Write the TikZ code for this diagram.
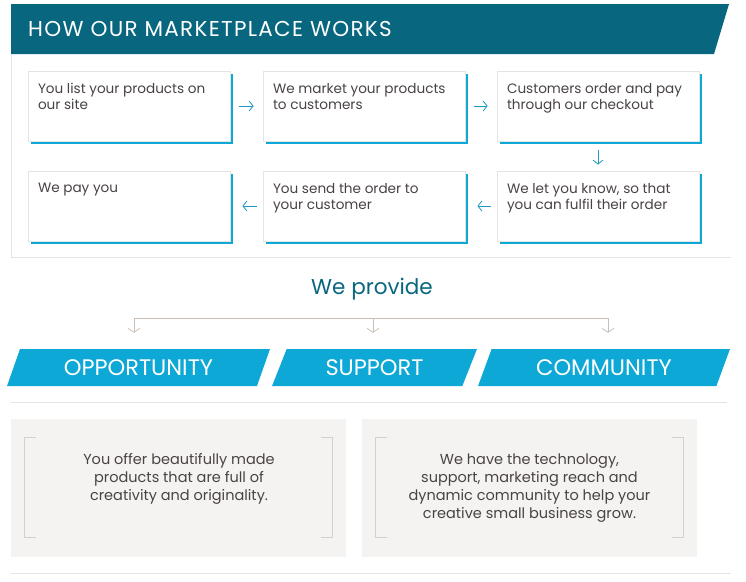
\documentclass[tikz,border=0pt]{standalone}
\usepackage{fontspec}
\setmainfont{Poppins}
\usepackage{tikz}
\usetikzlibrary{arrows.meta,shapes.geometric,shadows,positioning}
\definecolor{headteal}{HTML}{08667F}
\definecolor{bannerblue}{HTML}{0DA8D6}
\definecolor{arrowblue}{HTML}{1E98C3}
\definecolor{textgrey}{HTML}{4A4343}
\definecolor{framegrey}{HTML}{E4E4E4}
\definecolor{linktan}{HTML}{C9BFB7}
\definecolor{panelgrey}{HTML}{F4F3F1}
\definecolor{bracketgrey}{HTML}{D3D0CC}

\newcommand{\steptext}[1]{\parbox[t][45pt][t]{182pt}{\raggedright #1}}

\begin{document}
\begin{tikzpicture}[x=1pt,y=-1pt,
      stepbox/.style={rectangle,draw=framegrey,line width=0.8pt,fill=white,
                  minimum width=202pt,minimum height=70pt,
                  inner xsep=10pt,inner ysep=0pt,
                  text=textgrey,font=\fontsize{13.6}{16}\selectfont,
                  drop shadow={shadow xshift=3pt,shadow yshift=-3pt,
                               fill=bannerblue,opacity=1}},
      arr/.style={-{Straight Barb[length=4pt,width=10pt]},line width=0.8pt,draw=arrowblue},
      banner/.style={trapezium,trapezium left angle=63,trapezium right angle=117,
                  trapezium stretches=true,fill=bannerblue,
                  minimum height=37pt,inner sep=0pt,
                  text=white,font=\fontsize{22.5}{26}\selectfont},
      panel/.style={rectangle,fill=panelgrey,minimum width=335pt,minimum height=138pt},
      paneltext/.style={align=center,anchor=north,inner sep=0pt,
                  text=textgrey,font=\fontsize{14.5}{18}\selectfont},
      link/.style={draw=linktan,line width=0.8pt},
      linkarr/.style={link,-{Straight Barb[length=4pt,width=12pt]},shorten >=16pt},
      bracket/.style={draw=bracketgrey,line width=0.8pt}]
    \useasboundingbox (0,0) rectangle (746,581);

    % header
    \fill[headteal] (11,4) -- (729,4) -- (714,54) -- (11,54) -- cycle;
    \node[anchor=west,inner sep=0pt,text=white,
          font=\fontsize{21.5}{24}\selectfont\addfontfeatures{LetterSpace=6}]
          (title) at (28,28.5) {HOW OUR MARKETPLACE WORKS};
    \draw[framegrey,line width=0.8pt] (11,54) -- (11,257.5) -- (731,257.5);

    % steps
    \node[stepbox] (s1) at (129,106) {\steptext{You list your products on\\our site}};
    \node[stepbox] (s2) at (364,106) {\steptext{We market your products\\to customers}};
    \node[stepbox] (s3) at (598,106) {\steptext{Customers order and pay\\through our checkout}};
    \node[stepbox] (s4) at (598,206) {\steptext{We let you know, so that\\you can fulfil their order}};
    \node[stepbox] (s5) at (364,206) {\steptext{You send the order to\\your customer}};
    \node[stepbox] (s6) at (129,206) {\steptext{We pay you}};

    \draw[arr,shorten <=9pt,shorten >=9pt] (s1) -- (s2);
    \draw[arr,shorten <=9pt,shorten >=9pt] (s2) -- (s3);
    \draw[arr,shorten <=9pt,shorten >=6pt] (s3) -- (s4);
    \draw[arr,shorten <=6pt,shorten >=12pt] (s4) -- (s5);
    \draw[arr,shorten <=6pt,shorten >=12pt] (s5) -- (s6);

    % we provide
    \node[text=headteal,font=\fontsize{21.5}{24}\selectfont] (provide) at (372,289.5) {We provide};
    \node[banner,minimum width=263pt] (opp) at (138.5,367.5) {OPPORTUNITY};
    \node[banner,minimum width=205pt] (sup) at (374.5,367.5) {SUPPORT};
    \node[banner,minimum width=252pt] (com) at (604,367.5) {COMMUNITY};

    \coordinate (lnl) at (134,318);
    \coordinate (lnm) at (373,318);
    \coordinate (lnr) at (608,318);
    \draw[link] (lnl) -- (lnr);
    \draw[linkarr] (lnl) -- (lnl |- opp.north);
    \draw[linkarr] (lnm) -- (lnm |- sup.north);
    \draw[linkarr] (lnr) -- (lnr |- com.north);

    \draw[framegrey,line width=0.8pt] (11,402.5) -- (727,402.5);
    \draw[framegrey,line width=0.8pt] (11,573.5) -- (731,573.5);

    % panels
    \node[panel] (offer) at (178.5,488) {};
    \node[panel] (tech) at (529.5,488) {};
    \draw[bracket] ([shift={(25,19)}]offer.north west) -- ([shift={(14,19)}]offer.north west)
                -- ([shift={(14,-20)}]offer.south west) -- ([shift={(25,-20)}]offer.south west);
    \draw[bracket] ([shift={(-25,19)}]offer.north east) -- ([shift={(-14,19)}]offer.north east)
                -- ([shift={(-14,-20)}]offer.south east) -- ([shift={(-25,-20)}]offer.south east);
    \draw[bracket] ([shift={(25,19)}]tech.north west) -- ([shift={(14,19)}]tech.north west)
                -- ([shift={(14,-20)}]tech.south west) -- ([shift={(25,-20)}]tech.south west);
    \draw[bracket] ([shift={(-25,19)}]tech.north east) -- ([shift={(-14,19)}]tech.north east)
                -- ([shift={(-14,-20)}]tech.south east) -- ([shift={(-25,-20)}]tech.south east);
    \node[paneltext] (offertxt) at (179,453.5)
          {You offer beautifully made\\products that are full of\\creativity and originality.};
    \node[paneltext] (techtxt) at (529.5,453.5)
          {We have the technology,\\support, marketing reach and\\dynamic community to help your\\creative small business grow.};
  \end{tikzpicture}
\end{document}
